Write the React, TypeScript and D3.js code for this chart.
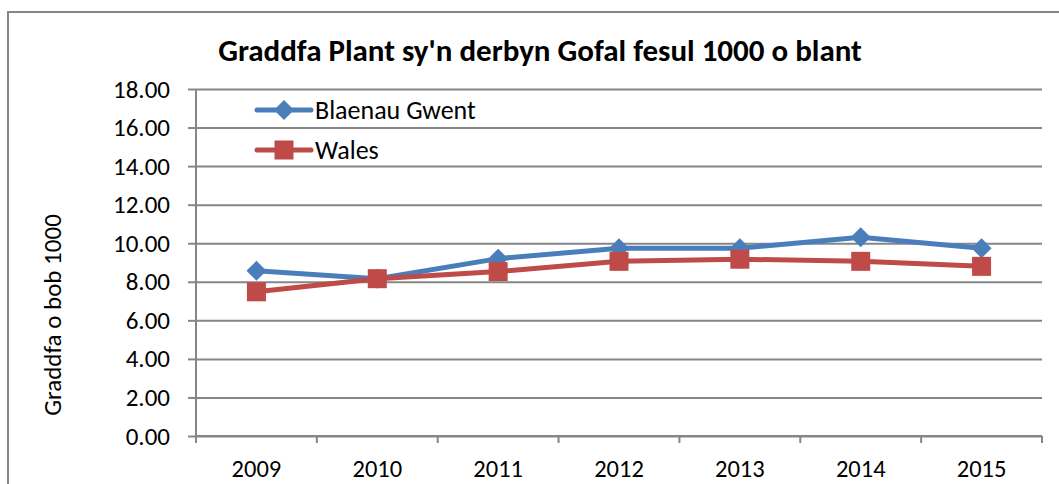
import React, { useEffect, useRef } from 'react';
import * as d3 from 'd3';

const years = ['2009', '2010', '2011', '2012', '2013', '2014', '2015'];
const blaenauGwent = [8.57, 8.16, 9.2, 9.74, 9.74, 10.31, 9.74];
const wales = [7.48, 8.16, 8.53, 9.06, 9.17, 9.06, 8.8];
const yTicks = [0, 2, 4, 6, 8, 10, 12, 14, 16, 18];

const FONT = "Carlito, Calibri, 'Liberation Sans Narrow', 'Noto Sans', sans-serif";

const App = () => {
  const svgRef = useRef<SVGSVGElement>(null);

  useEffect(() => {
    const svg = d3.select(svgRef.current);
    svg.selectAll('*').remove();

    const W = 1059, H = 484;
    const margin = { top: 89, right: 17, bottom: 48, left: 196 };
    const width = W - margin.left - margin.right;
    const height = H - margin.top - margin.bottom;

    svg.append('rect').attr('width', W).attr('height', H).attr('fill', '#fff');

    // outer chart frame
    svg.append('path')
      .attr('d', `M8,${H + 2} V12 H${W + 2}`)
      .attr('fill', 'none')
      .attr('stroke', '#868686')
      .attr('stroke-width', 2);

    svg.append('text')
      .attr('x', 540)
      .attr('y', 61)
      .attr('text-anchor', 'middle')
      .attr('font-family', FONT)
      .attr('font-weight', 'bold')
      .attr('font-size', 31)
      .text("Graddfa Plant sy'n derbyn Gofal fesul 1000 o blant");

    const g = svg.append('g').attr('transform', `translate(${margin.left},${margin.top})`);

    const x = d3.scaleBand().domain(years).range([0, width]);
    const y = d3.scaleLinear().domain([0, 18]).range([height, 0]);

    // gridlines
    g.append('g')
      .call(d3.axisLeft(y).tickValues(yTicks).tickSize(-width).tickFormat(() => ''))
      .call(s => s.select('.domain').remove())
      .selectAll('line')
      .attr('stroke', '#868686')
      .attr('stroke-width', 2);

    // y axis
    const yAxis = g.append('g')
      .call(d3.axisLeft(y).tickValues(yTicks).tickSize(8).tickPadding(18).tickFormat(d => (d as number).toFixed(2)));
    yAxis.select('.domain').attr('stroke', '#868686').attr('stroke-width', 2).attr('d', `M0,${height}V0`);
    yAxis.selectAll('line').attr('stroke', '#868686').attr('stroke-width', 2);
    yAxis.selectAll('text')
      .attr('font-family', FONT)
      .attr('font-size', 25)
      .attr('fill', '#000');

    // x axis
    const xAxis = g.append('g').attr('transform', `translate(0,${height})`)
      .call(d3.axisBottom(x).tickSize(0));
    xAxis.select('.domain').attr('stroke', '#868686').attr('stroke-width', 2).attr('d', `M0,0H${width}`);
    xAxis.selectAll('text')
      .attr('y', 41)
      .attr('dy', null)
      .attr('font-family', FONT)
      .attr('font-size', 24.5)
      .attr('fill', '#000');
    g.append('g').selectAll('line')
      .data(d3.range(years.length + 1))
      .join('line')
      .attr('x1', i => i * x.step())
      .attr('x2', i => i * x.step())
      .attr('y1', height)
      .attr('y2', height + 7)
      .attr('stroke', '#868686')
      .attr('stroke-width', 2);

    // y axis title
    svg.append('text')
      .attr('transform', 'translate(61,315) rotate(-90)')
      .attr('text-anchor', 'middle')
      .attr('font-family', FONT)
      .attr('font-size', 25)
      .text('Graddfa o bob 1000');

    const cx = (d: string) => (x(d) as number) + x.bandwidth() / 2;
    const line = d3.line<number>().x((_, i) => cx(years[i])).y(d => y(d));

    const series = [
      { name: 'Blaenau Gwent', values: blaenauGwent, color: '#4a7ebb', marker: 'diamond' },
      { name: 'Wales', values: wales, color: '#be4b48', marker: 'square' },
    ];

    const drawMarker = (sel: any, type: string, color: string, px: number, py: number) => {
      if (type === 'diamond') {
        sel.append('path')
          .attr('d', `M${px},${py - 10}L${px + 10},${py}L${px},${py + 10}L${px - 10},${py}Z`)
          .attr('fill', color);
      } else {
        sel.append('rect')
          .attr('x', px - 9.5).attr('y', py - 9.5)
          .attr('width', 19).attr('height', 19)
          .attr('fill', color);
      }
    };

    series.forEach(s => {
      g.append('path')
        .datum(s.values)
        .attr('d', line)
        .attr('fill', 'none')
        .attr('stroke', s.color)
        .attr('stroke-width', 5)
        .attr('stroke-linejoin', 'round');
    });
    series.forEach(s => {
      s.values.forEach((v, i) => drawMarker(g, s.marker, s.color, cx(years[i]), y(v)));
    });

    // legend
    const legend = svg.append('g');
    series.forEach((s, i) => {
      const ly = 110 + i * 40;
      legend.append('line')
        .attr('x1', 257).attr('x2', 311)
        .attr('y1', ly).attr('y2', ly)
        .attr('stroke', s.color)
        .attr('stroke-width', 5)
        .attr('stroke-linecap', 'round');
      drawMarker(legend, s.marker, s.color, 284, ly);
      legend.append('text')
        .attr('x', 315)
        .attr('y', ly)
        .attr('dy', '0.35em')
        .attr('font-family', FONT)
        .attr('font-size', 26)
        .text(s.name);
    });
  }, []);

  return (
    <svg
      ref={svgRef}
      width={1059}
      height={484}
      style={{ position: 'absolute', left: 0, top: 0, display: 'block' }}
    />
  );
};

export default App;
